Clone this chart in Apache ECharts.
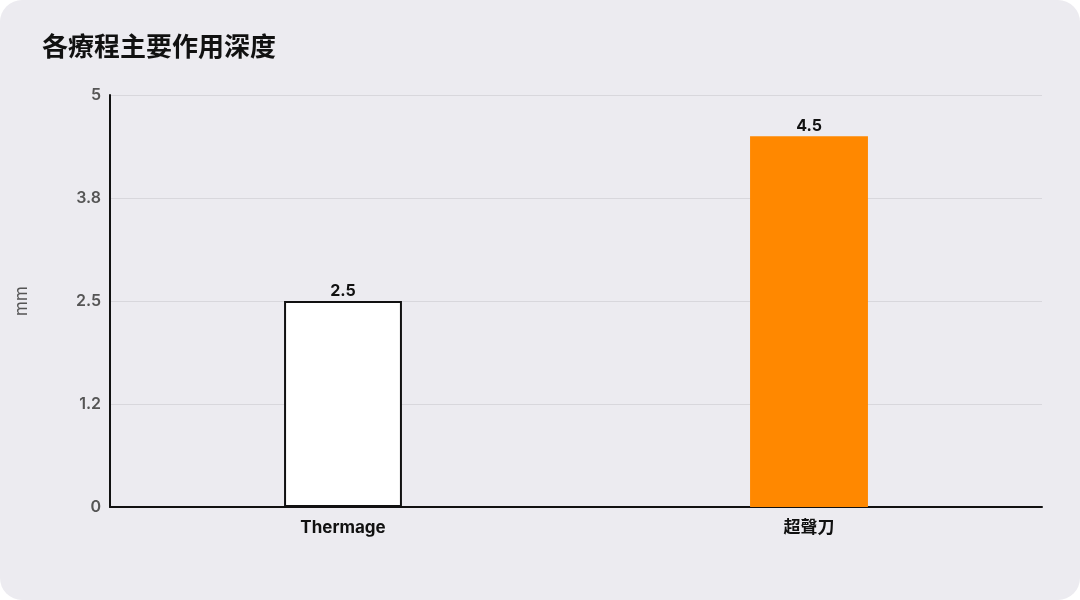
<!DOCTYPE html>
<html>
<head>
<meta charset="utf-8">
<script src="https://cdn.jsdelivr.net/npm/echarts@6/dist/echarts.min.js"></script>
<style>
html,body{margin:0;padding:0;background:#ffffff;}
#card{position:absolute;left:0;top:0;width:1080px;height:600px;background:#ECEBF0;border-radius:22px;overflow:hidden;}
#chart{width:1080px;height:600px;}
</style>
</head>
<body>
<div id="card"><div id="chart"></div></div>
<script>
const titleText = '各療程主要作用深度';
const categories = ['Thermage', '超聲刀'];
const values = [2.5, 4.5];
const tickValues = [0, 1.25, 2.5, 3.75, 5];
const tickLabels = ['0', '1.2', '2.5', '3.8', '5'];
const yName = 'mm';

const chart = echarts.init(document.getElementById('chart'));
const fontFam = 'Inter, "Noto Sans CJK TC", "Noto Sans", sans-serif';
chart.setOption({
  backgroundColor: 'transparent',
  title: {
    text: titleText,
    left: 37, top: 30,
    textStyle: {fontSize: 26, fontWeight: 'bold', color: '#111', fontFamily: fontFam}
  },
  grid: {left: 110, right: 38, top: 95, bottom: 93},
  xAxis: {
    type: 'category',
    data: categories,
    axisLine: {lineStyle: {color: '#111', width: 2}},
    axisTick: {show: false},
    axisLabel: {color: '#111', fontSize: 17, fontWeight: 'bold', margin: 12, fontFamily: fontFam}
  },
  yAxis: {
    type: 'value',
    min: 0, max: 5, interval: 1.25,
    name: yName,
    nameLocation: 'middle',
    nameGap: 80,
    nameRotate: 90,
    nameTextStyle: {color: '#555', fontSize: 17, fontFamily: fontFam},
    axisLine: {show: true, lineStyle: {color: '#111', width: 2}},
    axisTick: {show: false},
    splitLine: {lineStyle: {color: '#d8d7dc', width: 1}},
    axisLabel: {
      color: '#555', fontSize: 16, fontWeight: 600, margin: 9, fontFamily: fontFam,
      formatter: function (v) {
        const i = tickValues.findIndex(t => Math.abs(t - v) < 1e-9);
        return i >= 0 ? tickLabels[i] : '';
      }
    }
  },
  series: [{
    type: 'bar',
    barWidth: '25.3%',
    data: [
      {value: values[0], itemStyle: {color: '#ffffff', borderColor: '#111', borderWidth: 2}},
      {value: values[1], itemStyle: {color: '#FF8800'}}
    ],
    label: {
      show: true, position: 'top', distance: 2,
      color: '#111', fontSize: 16, fontWeight: 'bold', fontFamily: fontFam
    }
  }]
});
</script>
</body>
</html>
